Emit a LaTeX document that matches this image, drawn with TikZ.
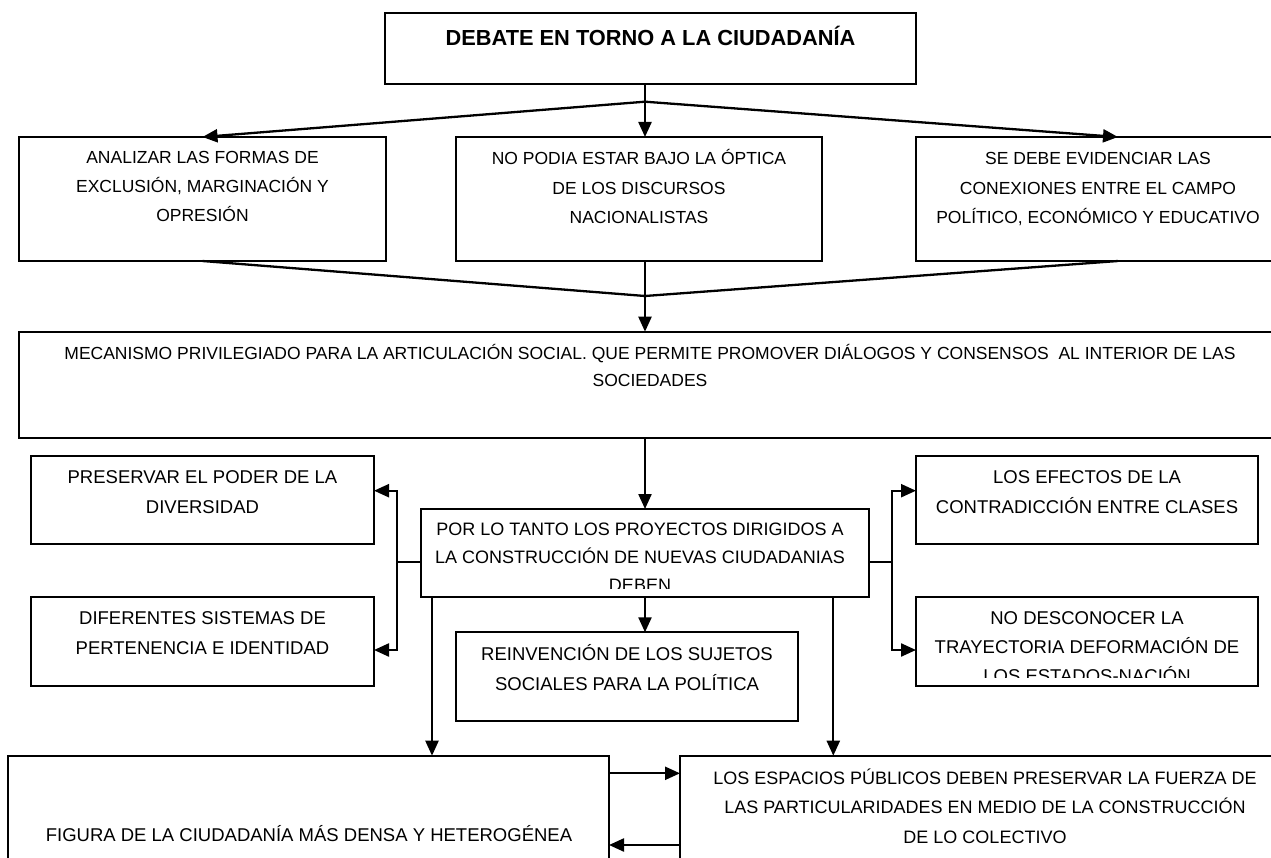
\documentclass[tikz,border=0pt]{standalone}
\usepackage{fontspec}
\setmainfont{Liberation Sans}
\usetikzlibrary{arrows.meta}
\tikzset{
  boxst/.style={draw, line width=2pt, inner sep=0pt, outer sep=0pt, anchor=north west},
  conn/.style={line width=2.3pt},
  arr/.style={conn, -{Triangle[length=15pt,width=13pt]}},
  txt/.style={align=center, inner sep=0pt, outer sep=0pt, anchor=north, font=\fontsize{18.5}{29.5}\selectfont},
  txts/.style={txt, font=\fontsize{17.5}{29}\selectfont},
}
\newcommand{\mybox}[5]{\node[boxst, minimum width={#4-#2}, minimum height={#5-#3}] (#1) at (#2,#3) {};}
\newcommand{\fl}{\rule{0pt}{20pt}}
\begin{document}
\begin{tikzpicture}[x=1pt,y=-1pt]
\useasboundingbox (0,0) rectangle (1271,858);
\fill[white] (0,0) rectangle (1271,858);
\clip (0,0) rectangle (1271,858);

% boxes
\mybox{top}{385}{13.3}{916}{84}
\mybox{left2}{19}{137}{386}{261}
\mybox{cent2}{456}{137}{822}{261}
\mybox{right2}{916}{137}{1320}{261}
\mybox{mec}{19}{331.7}{1281}{437.7}
\mybox{pres}{31}{455.7}{374}{544.3}
\mybox{por}{421}{509}{869}{597}
\mybox{efec}{916}{455.7}{1258}{544.3}
\mybox{dif}{31}{596.7}{374}{686}
\mybox{rein}{456}{632.3}{798}{721}
\mybox{nodes}{916}{596.7}{1258}{686}
\mybox{fig}{8}{755.7}{609}{880}
\mybox{esp}{680}{755.7}{1300}{880}

% texts
\node[txt, font=\fontsize{21.8}{26}\selectfont\bfseries] (ttop) at (650.5,21.4) {\rule{0pt}{24pt}DEBATE EN TORNO A LA CIUDADANÍA};
\node[txts] (tleft2) at (202.5,144) {\fl ANALIZAR LAS FORMAS DE\\EXCLUSIÓN, MARGINACIÓN Y\\OPRESIÓN};
\node[txts, font=\fontsize{17.5}{29.5}\selectfont] (tcent2) at (639,145) {\fl NO PODIA ESTAR BAJO LA ÓPTICA\\DE LOS DISCURSOS\\NACIONALISTAS};
\node[txts, font=\fontsize{17.5}{29.5}\selectfont] (tright2) at (1098,145) {\fl SE DEBE EVIDENCIAR LAS\\CONEXIONES ENTRE EL CAMPO\\POLÍTICO, ECONÓMICO Y EDUCATIVO};
\node[txts, font=\fontsize{17.5}{27.3}\selectfont] (tmec) at (650,339) {\fl MECANISMO PRIVILEGIADO PARA LA ARTICULACIÓN SOCIAL. QUE PERMITE PROMOVER DIÁLOGOS Y CONSENSOS\ \ AL INTERIOR DE LAS\\SOCIEDADES};
\node[txt, font=\fontsize{18.5}{30}\selectfont] (tpres) at (202.5,463) {\fl PRESERVAR EL PODER DE LA\\DIVERSIDAD};
\begin{scope}
\clip (421,509) rectangle (869,588);
\node[txt, font=\fontsize{18}{28}\selectfont] (tpor) at (640,515) {\fl POR LO TANTO LOS PROYECTOS DIRIGIDOS A\\LA CONSTRUCCIÓN DE NUEVAS CIUDADANIAS\\DEBEN};
\end{scope}
\node[txt, font=\fontsize{18.5}{30}\selectfont] (tefec) at (1087,463.5) {\fl LOS EFECTOS DE LA\\CONTRADICCIÓN ENTRE CLASES};
\node[txt, font=\fontsize{18.5}{30}\selectfont] (tdif) at (202.5,604) {\fl DIFERENTES SISTEMAS DE\\PERTENENCIA E IDENTIDAD};
\node[txt, font=\fontsize{18.5}{30}\selectfont] (trein) at (627,640) {\fl REINVENCIÓN DE LOS SUJETOS\\SOCIALES PARA LA POLÍTICA};
\begin{scope}
\clip (916,596.7) rectangle (1258,677);
\node[txt, font=\fontsize{18.5}{29}\selectfont] (tnodes) at (1087,604) {\fl NO DESCONOCER LA\\TRAYECTORIA DEFORMACIÓN DE\\LOS ESTADOS-NACIÓN};
\end{scope}
\node[txt] (tfig) at (309,821) {\fl FIGURA DE LA CIUDADANÍA MÁS DENSA Y HETEROGÉNEA};
\node[txt, font=\fontsize{18}{29.5}\selectfont] (tesp) at (985,764) {\fl LOS ESPACIOS PÚBLICOS DEBEN PRESERVAR LA FUERZA DE\\LAS PARTICULARIDADES EN MEDIO DE LA CONSTRUCCIÓN\\DE LO COLECTIVO};

% helper coordinates
\coordinate (br) at (645,101.7);
\coordinate (cv) at (645,296);
\coordinate (lb) at (397,562);
\coordinate (rb) at (891.7,562);
\coordinate (ya) at (0,490.7);
\coordinate (yb) at (0,650);
\coordinate (d1) at (432,0);
\coordinate (d3) at (833.3,0);
\coordinate (h1) at (0,773.3);
\coordinate (h2) at (0,845);

% connectors
\draw[conn] (top.south -| br) -- (br);
\draw[arr] (br) -- (br |- cent2.north);
\draw[arr] (br) -- (left2.north);
\draw[arr] (br) -- (right2.north);
\draw[conn] (left2.south) -- (cv) -- (right2.south);
\draw[conn] (cent2.south -| cv) -- (cv);
\draw[arr] (cv) -- (cv |- mec.north);
\draw[arr] (mec.south -| cv) -- (cv |- por.north);
\draw[conn] (por.west |- lb) -- (lb);
\draw[arr] (lb) -- (lb |- ya) -- (pres.east |- ya);
\draw[arr] (lb) -- (lb |- yb) -- (dif.east |- yb);
\draw[conn] (por.east |- rb) -- (rb);
\draw[arr] (rb) -- (rb |- ya) -- (efec.west |- ya);
\draw[arr] (rb) -- (rb |- yb) -- (nodes.west |- yb);
\draw[arr] (por.south -| d1) -- (fig.north -| d1);
\draw[arr] (por.south -| cv) -- (rein.north -| cv);
\draw[arr] (por.south -| d3) -- (esp.north -| d3);
\draw[arr] (fig.east |- h1) -- (esp.west |- h1);
\draw[arr] (esp.west |- h2) -- (fig.east |- h2);
\end{tikzpicture}
\end{document}
